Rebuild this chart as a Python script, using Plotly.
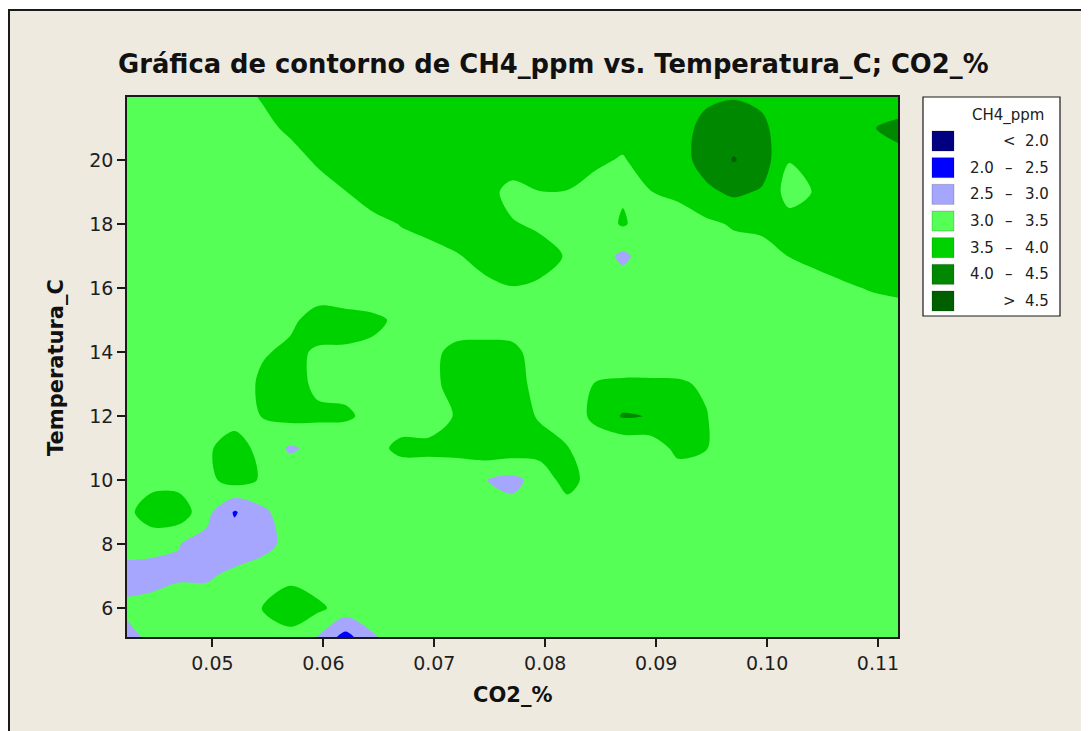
import plotly.graph_objects as go

# ---------------- data ----------------
co2_grid = [0.0420, 0.0445, 0.0470, 0.0495, 0.0520, 0.0545, 0.0570, 0.0595, 0.0620, 0.0645,
            0.0670, 0.0695, 0.0720, 0.0745, 0.0770, 0.0795, 0.0820, 0.0845, 0.0870, 0.0895,
            0.0920, 0.0945, 0.0970, 0.0995, 0.1020, 0.1045, 0.1070, 0.1095, 0.1120]
temp_grid = [5, 6, 7, 8, 9, 10, 11, 12, 13, 14, 15, 16, 17, 18, 19, 20, 21, 22]

ch4_grid = [
    # y = 5
    [2.70, 3.12, 3.25, 3.25, 3.25, 3.25, 3.25, 2.90, 2.20, 2.92, 3.25, 3.25, 3.25, 3.25, 3.25,
     3.25, 3.25, 3.25, 3.25, 3.25, 3.25, 3.25, 3.25, 3.25, 3.25, 3.25, 3.25, 3.25, 3.25],
    # y = 6
    [3.10, 3.20, 3.20, 3.20, 3.25, 3.52, 3.85, 3.60, 3.30, 3.25, 3.25, 3.25, 3.25, 3.25, 3.25,
     3.25, 3.25, 3.25, 3.25, 3.25, 3.25, 3.25, 3.25, 3.25, 3.25, 3.25, 3.25, 3.25, 3.25],
    # y = 7
    [2.80, 2.80, 2.95, 2.95, 3.10, 3.25, 3.35, 3.25, 3.25, 3.25, 3.25, 3.25, 3.25, 3.25, 3.25,
     3.25, 3.25, 3.25, 3.25, 3.25, 3.25, 3.25, 3.25, 3.25, 3.25, 3.25, 3.25, 3.25, 3.25],
    # y = 8
    [3.20, 3.15, 3.01, 2.85, 2.75, 2.85, 3.14, 3.25, 3.25, 3.25, 3.25, 3.25, 3.25, 3.25, 3.25,
     3.25, 3.25, 3.25, 3.25, 3.25, 3.25, 3.25, 3.25, 3.25, 3.25, 3.25, 3.25, 3.25, 3.25],
    # y = 9
    [3.30, 3.80, 3.80, 3.14, 2.45, 2.90, 3.25, 3.25, 3.25, 3.25, 3.25, 3.25, 3.25, 3.25, 3.20,
     3.25, 3.25, 3.25, 3.25, 3.25, 3.25, 3.25, 3.25, 3.25, 3.25, 3.25, 3.25, 3.25, 3.25],
    # y = 10
    [3.25, 3.30, 3.30, 3.37, 3.70, 3.45, 3.25, 3.25, 3.25, 3.25, 3.10, 3.10, 3.05, 3.02, 2.85,
     3.20, 3.70, 3.25, 3.25, 3.25, 3.20, 3.25, 3.25, 3.25, 3.25, 3.25, 3.25, 3.25, 3.25],
    # y = 11
    [3.25, 3.25, 3.25, 3.39, 3.85, 3.25, 2.95, 3.10, 3.10, 3.30, 3.65, 3.65, 3.70, 3.80, 3.80,
     3.70, 3.52, 3.25, 3.10, 3.20, 3.65, 3.52, 3.25, 3.25, 3.25, 3.25, 3.25, 3.25, 3.25],
    # y = 12
    [3.25, 3.25, 3.25, 3.25, 3.20, 3.52, 3.65, 3.60, 3.58, 3.35, 3.20, 3.20, 3.55, 3.80, 3.75,
     3.45, 3.25, 3.60, 4.05, 3.98, 3.80, 3.52, 3.25, 3.25, 3.25, 3.25, 3.25, 3.25, 3.25],
    # y = 13
    [3.25, 3.25, 3.25, 3.25, 3.20, 3.60, 3.70, 3.40, 3.35, 3.25, 3.25, 3.30, 3.75, 3.80, 3.75,
     3.30, 3.25, 3.52, 3.56, 3.56, 3.55, 3.45, 3.25, 3.25, 3.25, 3.25, 3.25, 3.25, 3.25],
    # y = 14
    [3.25, 3.25, 3.25, 3.25, 3.25, 3.45, 3.60, 3.45, 3.42, 3.40, 3.30, 3.30, 3.70, 3.75, 3.62,
     3.30, 3.25, 3.25, 3.25, 3.25, 3.25, 3.25, 3.25, 3.25, 3.25, 3.25, 3.25, 3.25, 3.25],
    # y = 15
    [3.25, 3.25, 3.25, 3.25, 3.25, 3.25, 3.40, 3.70, 3.75, 3.60, 3.40, 3.25, 3.10, 3.10, 3.25,
     3.25, 3.25, 3.25, 3.25, 3.25, 3.25, 3.25, 3.25, 3.25, 3.25, 3.25, 3.25, 3.30, 3.30],
    # y = 16
    [3.25, 3.25, 3.25, 3.25, 3.25, 3.25, 3.25, 3.25, 3.05, 3.15, 3.25, 3.25, 3.25, 3.35, 3.48,
     3.40, 3.25, 3.25, 3.25, 3.25, 3.25, 3.25, 3.25, 3.25, 3.30, 3.30, 3.45, 3.53, 3.59],
    # y = 17
    [3.25, 3.25, 3.25, 3.25, 3.25, 3.25, 3.25, 3.25, 3.25, 3.25, 3.30, 3.30, 3.45, 3.70, 3.80,
     3.73, 3.45, 3.25, 2.90, 3.25, 3.25, 3.25, 3.30, 3.30, 3.51, 3.65, 3.69, 3.75, 3.75],
    # y = 18
    [3.25, 3.25, 3.25, 3.25, 3.25, 3.25, 3.25, 3.25, 3.30, 3.35, 3.52, 3.68, 3.87, 3.80, 3.55,
     3.40, 3.30, 3.25, 3.55, 3.25, 3.30, 3.40, 3.55, 3.62, 3.70, 3.75, 3.75, 3.75, 3.75],
    # y = 19
    [3.25, 3.25, 3.25, 3.25, 3.25, 3.25, 3.25, 3.26, 3.49, 3.75, 3.70, 3.75, 3.75, 3.75, 3.30,
     3.49, 3.48, 3.30, 3.45, 3.49, 3.59, 3.90, 4.09, 3.95, 3.30, 3.55, 3.75, 3.75, 3.75],
    # y = 20
    [3.25, 3.25, 3.25, 3.25, 3.25, 3.25, 3.29, 3.58, 3.70, 3.75, 3.75, 3.75, 3.75, 3.75, 3.85,
     3.80, 3.80, 3.60, 3.45, 3.80, 3.80, 4.20, 4.53, 4.25, 3.52, 3.75, 3.75, 3.80, 3.80],
    # y = 21
    [3.25, 3.25, 3.25, 3.25, 3.25, 3.35, 3.60, 3.70, 3.75, 3.75, 3.75, 3.75, 3.75, 3.75, 3.75,
     3.75, 3.75, 3.75, 3.75, 3.75, 3.80, 4.15, 4.30, 4.15, 3.60, 3.75, 3.75, 3.97, 4.20],
    # y = 22
    [3.30, 3.30, 3.30, 3.30, 3.30, 3.55, 3.70, 3.75, 3.75, 3.75, 3.75, 3.75, 3.75, 3.75, 3.75,
     3.75, 3.75, 3.75, 3.75, 3.75, 3.75, 3.90, 3.96, 3.85, 3.75, 3.75, 3.75, 3.80, 3.55],
]

levels = [2.0, 2.5, 3.0, 3.5, 4.0, 4.5]
band_colors = ["#000080", "#0000FF", "#A6A6FF", "#55FF55", "#00D200", "#008800", "#006000"]

x_ticks = [0.05, 0.06, 0.07, 0.08, 0.09, 0.10, 0.11]
x_ticktext = ["0.05", "0.06", "0.07", "0.08", "0.09", "0.10", "0.11"]
y_ticks = [6, 8, 10, 12, 14, 16, 18, 20]
y_ticktext = ["6", "8", "10", "12", "14", "16", "18", "20"]
x_range = [0.0423, 0.1118]
y_range = [5.10, 21.97]

title_text = "Gráfica de contorno de CH4_ppm vs. Temperatura_C; CO2_%"
x_title = "CO2_%"
y_title = "Temperatura_C"
legend_title = "CH4_ppm"

# ---------------- layout geometry (page pixels) ----------------
PAGE_W, PAGE_H = 1089, 731
OFF = 8                                      # default body margin of the html page
FIG_W, FIG_H = PAGE_W - OFF, PAGE_H - OFF
PL, PR, PT, PB = 127, 898, 97, 637          # plot-area edges in page px
FONT = "DejaVu Sans"
BEIGE = "#EEEAE0"


def fx(px):
    return (px - PL) / (PR - PL)


def fy(py):
    return (PB - py) / (PB - PT)


# discrete colour scale: one colour per band
nb = len(band_colors)
bounds = [0.0] + [k / 6 - 0.03 for k in range(1, 6)] + [0.96, 1.0]
colorscale = []
for k, c in enumerate(band_colors):
    colorscale.append([bounds[k], c])
    colorscale.append([bounds[k + 1], c])

fig = go.Figure()
fig.add_trace(go.Contour(
    x=co2_grid, y=temp_grid, z=ch4_grid,
    autocontour=False,
    contours=dict(start=levels[0], end=levels[-1], size=levels[1] - levels[0],
                  coloring="fill", showlines=False),
    colorscale=colorscale,
    showscale=False,
    line=dict(width=0, smoothing=0.9),
    hoverinfo="skip",
))

shapes = []
annotations = []

# outer frame (beige graph region)
shapes.append(dict(type="rect", xref="paper", yref="paper", layer="below",
                   x0=fx(9), x1=fx(1110), y0=fy(760), y1=fy(10),
                   fillcolor=BEIGE, line=dict(color="#1a1a1a", width=2)))

# legend box
LX0, LX1, LY0, LY1 = 923, 1060, 97, 316
shapes.append(dict(type="rect", xref="paper", yref="paper", layer="above",
                   x0=fx(LX0), x1=fx(LX1), y0=fy(LY1), y1=fy(LY0),
                   fillcolor="white", line=dict(color="#1a1a1a", width=1.2)))
annotations.append(dict(text=legend_title, xref="paper", yref="paper",
                        x=fx(1008), y=fy(115), xanchor="center", yanchor="middle",
                        showarrow=False, font=dict(family=FONT, size=15, color="#202020")))

row0, dy = 141, 26.67
for k, c in enumerate(band_colors):
    cy = row0 + k * dy
    shapes.append(dict(type="rect", xref="paper", yref="paper", layer="above",
                       x0=fx(932), x1=fx(954), y0=fy(cy + 10), y1=fy(cy - 10),
                       fillcolor=c, line=dict(color="rgba(0,0,0,0.18)", width=1)))
    if k == 0:
        low, mid, high = "", "<", f"{levels[0]:.1f}"
    elif k == nb - 1:
        low, mid, high = "", ">", f"{levels[-1]:.1f}"
    else:
        low, mid, high = f"{levels[k - 1]:.1f}", "–", f"{levels[k]:.1f}"
    for txt, xpx, anc in ((low, 968, "left"), (mid, 1009, "center"), (high, 1023, "left")):
        if txt:
            annotations.append(dict(text=txt, xref="paper", yref="paper",
                                    x=fx(xpx), y=fy(cy), xanchor=anc, yanchor="middle",
                                    showarrow=False,
                                    font=dict(family=FONT, size=15, color="#202020")))

# titles
annotations.append(dict(text=f"<b>{title_text}</b>", xref="paper", yref="paper",
                        x=fx(553), y=fy(64), xanchor="center", yanchor="middle",
                        showarrow=False, font=dict(family=FONT, size=25.8, color="#111111")))
annotations.append(dict(text=f"<b>{x_title}</b>", xref="paper", yref="paper",
                        x=fx(512), y=fy(695), xanchor="center", yanchor="middle",
                        showarrow=False, font=dict(family=FONT, size=21, color="#111111")))
annotations.append(dict(text=f"<b>{y_title}</b>", xref="paper", yref="paper",
                        x=fx(56), y=fy(368), xanchor="center", yanchor="middle",
                        textangle=-90, showarrow=False,
                        font=dict(family=FONT, size=21, color="#111111")))

axis_common = dict(showgrid=False, zeroline=False, showline=True, linecolor="#1a1a1a",
                   linewidth=1.5, mirror=True, ticks="outside", ticklen=8, tickwidth=1.5,
                   tickcolor="#1a1a1a",
                   tickfont=dict(family=FONT, size=19, color="#1e1e1e"))

fig.update_layout(
    width=FIG_W, height=FIG_H,
    margin=dict(l=PL - OFF, r=PAGE_W - PR, t=PT - OFF, b=PAGE_H - PB, autoexpand=False),
    paper_bgcolor="white",
    plot_bgcolor=BEIGE,
    showlegend=False,
    xaxis=dict(range=x_range, tickvals=x_ticks, ticktext=x_ticktext, **axis_common),
    yaxis=dict(range=y_range, tickvals=y_ticks, ticktext=y_ticktext, **axis_common),
    shapes=shapes,
    annotations=annotations,
)

fig.write_html("out.html")
